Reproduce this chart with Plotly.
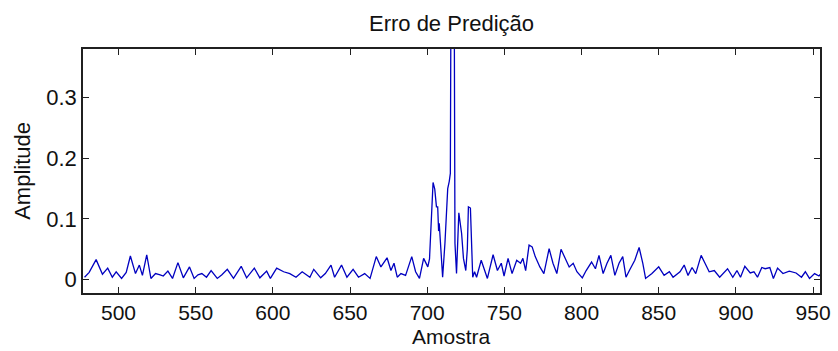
import plotly.graph_objects as go

# Sample index (Amostra) and prediction error amplitude
amostra = [478, 481, 485.5, 489.6, 493, 496, 498.5, 502, 505, 507.7, 511, 513.5, 515.5, 518.3,
           521, 524, 527, 529, 532, 535, 538.5, 542, 546, 549, 551.5, 554, 557, 560, 564, 567,
           570.5, 574.5, 579.5, 583, 588, 591.6, 596, 598.4, 602.5, 605, 607, 611, 615, 619,
           624, 626.5, 631, 634, 637.7, 640, 644.5, 648, 652, 655.5, 659.5, 663, 667, 670, 674,
           676.5, 678.5, 680.6, 683, 686, 690, 692.5, 695, 697.7, 700.4, 701.5, 703, 703.8,
           704.9, 706, 706.8, 707.4, 707.8, 709, 710, 711.5, 712.5, 713.3, 714.3, 715, 716,
           717, 718, 719, 720.5, 721.5, 722.3, 723.5, 725, 726, 726.7, 728, 728.8, 729.5,
           730.7, 732, 735, 737.6, 739, 742.7, 745.5, 748, 749.8, 752.4, 755, 758, 760.5, 762,
           763.8, 766, 768, 770, 773, 775.6, 779, 781.5, 784, 786.7, 789, 792, 794.6, 797,
           800.5, 803, 806.5, 809, 811.3, 814, 816.5, 819, 821.6, 824.3, 826.7, 828.8, 831,
           834.5, 837.3, 839.7, 841.5, 845.6, 850, 853.5, 856.9, 859.3, 863.8, 866.5, 869,
           871.6, 874, 877.5, 880, 882.7, 886, 889.5, 894.6, 898, 900.7, 903, 905.8, 909.3,
           911.7, 914, 916.8, 919, 922, 924.3, 927, 930.5, 934.6, 939, 942.5, 945, 947.7, 951,
           953.8, 955.5]
erro = [0.004, 0.012, 0.033, 0.009, 0.019, 0.004, 0.013, 0.002, 0.012, 0.039, 0.010, 0.024, 0.007, 0.041,
        0.002, 0.010, 0.008, 0.006, 0.014, 0.002, 0.028, 0.003, 0.021, 0.002, 0.008, 0.010, 0.004, 0.015, 0.002, 0.008,
        0.017, 0.002, 0.022, 0.003, 0.019, 0.003, 0.014, 0.002, 0.019, 0.015, 0.013, 0.010, 0.004, 0.013,
        0.004, 0.017, 0.003, 0.010, 0.024, 0.004, 0.024, 0.004, 0.017, 0.004, 0.010, 0.002, 0.038, 0.021, 0.036,
        0.015, 0.027, 0.004, 0.010, 0.007, 0.038, 0.013, 0.002, 0.035, 0.021, 0.034, 0.126, 0.160,
        0.149, 0.120, 0.120, 0.080, 0.093, 0.040, 0.004, 0.060, 0.120, 0.150, 0.162, 0.175, 0.900,
        0.900, 0.060, 0.010, 0.110, 0.090, 0.076, 0.035, 0.015, 0.050, 0.120, 0.118, 0.060, 0.004,
        0.013, 0.004, 0.032, 0.013, 0.002, 0.041, 0.015, 0.027, 0.006, 0.035, 0.010, 0.032, 0.027, 0.035,
        0.015, 0.057, 0.054, 0.038, 0.021, 0.010, 0.051, 0.027, 0.010, 0.050, 0.038, 0.021, 0.027, 0.013,
        0.003, 0.015, 0.029, 0.018, 0.040, 0.010, 0.027, 0.040, 0.007, 0.027, 0.038, 0.004, 0.015,
        0.032, 0.053, 0.027, 0.002, 0.010, 0.021, 0.007, 0.013, 0.004, 0.013, 0.024, 0.007,
        0.020, 0.010, 0.040, 0.027, 0.013, 0.015, 0.004, 0.018, 0.004, 0.015, 0.004, 0.022, 0.011,
        0.013, 0.004, 0.020, 0.018, 0.020, 0.002, 0.019, 0.010, 0.014, 0.011, 0.004, 0.013, 0.002, 0.010,
        0.006, 0.011]

x_ticks = [500, 550, 600, 650, 700, 750, 800, 850, 900, 950]
y_ticks = [0, 0.1, 0.2, 0.3]
y_tick_labels = ["0", "0.1", "0.2", "0.3"]

FONT = "Liberation Sans, Arial, sans-serif"
TXT = "#111111"

fig = go.Figure()
fig.add_trace(go.Scatter(x=amostra, y=erro, mode="lines",
                         line=dict(color="#0000c0", width=1.3), showlegend=False,
                         cliponaxis=True))

axis_common = dict(showline=True, linecolor="#202020", linewidth=1.5, mirror="allticks",
                   ticks="inside", ticklen=6, tickwidth=1.2, tickcolor="#202020",
                   showgrid=False, zeroline=False, ticklabeloverflow="allow")

fig.update_layout(
    width=838, height=351,
    margin=dict(l=83, r=8, t=49, b=58),
    paper_bgcolor="white", plot_bgcolor="white",
    title=dict(text="Erro de Predição", x=0.5, xref="paper", xanchor="center",
               y=1 - 23 / 351, yref="container", yanchor="middle",
               font=dict(family=FONT, size=22, color=TXT)),
    xaxis=dict(range=[477, 954.5], tickvals=x_ticks,
               tickfont=dict(family=FONT, size=21, color=TXT), **axis_common),
    yaxis=dict(range=[-0.022, 0.38], tickvals=y_ticks, ticktext=y_tick_labels,
               tickfont=dict(family=FONT, size=22, color=TXT), **axis_common),
    annotations=[
        dict(text="Amostra", xref="paper", yref="paper", x=0.5, y=-0.234,
             xanchor="center", yanchor="bottom", showarrow=False,
             font=dict(family=FONT, size=21, color=TXT)),
        dict(text="Amplitude", xref="paper", yref="paper", x=-0.083, y=0.5,
             xanchor="center", yanchor="middle", textangle=-90, showarrow=False,
             font=dict(family=FONT, size=22, color=TXT)),
    ],
)

fig.write_html("out.html")
